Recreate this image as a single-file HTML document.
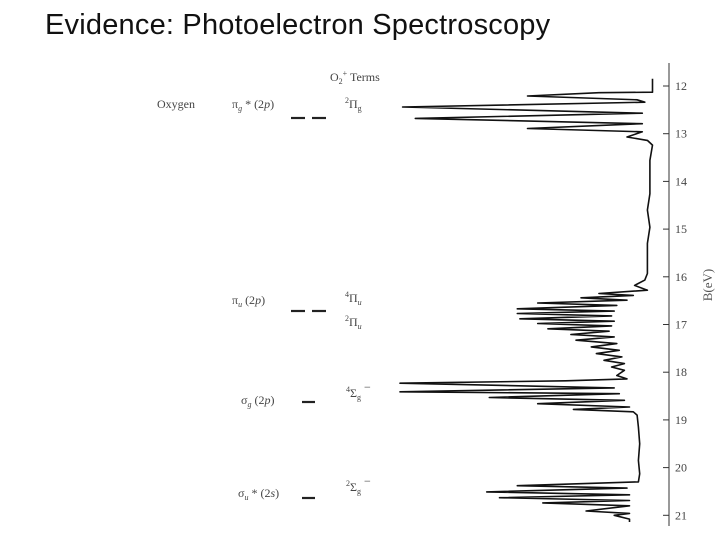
<!DOCTYPE html>
<html><head><meta charset="utf-8"><style>
body{margin:0;background:#fff;width:720px;height:540px;overflow:hidden;font-family:"Liberation Serif",serif}
#title{position:absolute;left:45px;top:9px;font-family:"Liberation Sans",sans-serif;font-size:29px;color:#111;white-space:nowrap;letter-spacing:0.2px}
</style></head><body>
<div id="title">Evidence: Photoelectron Spectroscopy</div>
<svg id="chart" width="720" height="540" style="position:absolute;left:0;top:0">
<g font-family="Liberation Serif, serif" font-size="12" fill="#444">
<text x="330" y="81">O<tspan font-size="8" dy="3">2</tspan><tspan font-size="8" dy="-8">+</tspan><tspan dy="5"> Terms</tspan></text>
<text x="157" y="108">Oxygen</text>
<text x="232" y="108">π<tspan font-size="8" dy="3" font-style="italic">g</tspan><tspan dy="-3"> * (2</tspan><tspan font-style="italic">p</tspan>)</text>
<text x="345" y="108"><tspan font-size="8" dy="-5">2</tspan><tspan dy="5">Π</tspan><tspan font-size="8" dy="3">g</tspan></text>
<text x="232" y="304">π<tspan font-size="8" dy="3" font-style="italic">u</tspan><tspan dy="-3"> (2</tspan><tspan font-style="italic">p</tspan>)</text>
<text x="345" y="302"><tspan font-size="8" dy="-5">4</tspan><tspan dy="5">Π</tspan><tspan font-size="8" dy="3" font-style="italic">u</tspan></text>
<text x="345" y="326"><tspan font-size="8" dy="-5">2</tspan><tspan dy="5">Π</tspan><tspan font-size="8" dy="3" font-style="italic">u</tspan></text>
<text x="241" y="404">σ<tspan font-size="8" dy="3" font-style="italic">g</tspan><tspan dy="-3"> (2</tspan><tspan font-style="italic">p</tspan>)</text>
<text x="346" y="397"><tspan font-size="8" dy="-5">4</tspan><tspan dy="5">Σ</tspan><tspan font-size="8" dy="3">g</tspan><tspan dy="-9"> −</tspan></text>
<text x="238" y="497">σ<tspan font-size="8" dy="3" font-style="italic">u</tspan><tspan dy="-3"> * (2</tspan><tspan font-style="italic">s</tspan>)</text>
<text x="346" y="491"><tspan font-size="8" dy="-5">2</tspan><tspan dy="5">Σ</tspan><tspan font-size="8" dy="3">g</tspan><tspan dy="-9"> −</tspan></text>
</g>
<g stroke="#222" stroke-width="2.2">
<line x1="291" y1="118" x2="305" y2="118"/>
<line x1="312" y1="118" x2="326" y2="118"/>
<line x1="291" y1="311" x2="305" y2="311"/>
<line x1="312" y1="311" x2="326" y2="311"/>
<line x1="302" y1="402" x2="315" y2="402"/>
<line x1="302" y1="498" x2="315" y2="498"/>
</g>
<g id="axis"></g>
<path id="spec" fill="none" stroke="#111" stroke-width="1.6" stroke-linejoin="round"/>
<text x="712" y="285" transform="rotate(-90 712 285)" text-anchor="middle" font-size="13" fill="#555">B(eV)</text>
</svg>
<script>
const tickValues=[12,13,14,15,16,17,18,19,20,21];
const energies=[11.85,12.13,12.14,12.21,12.29,12.34,12.44,12.57,12.68,12.79,12.89,12.96,13.07,13.14,13.24,13.56,14.26,14.6,14.96,15.3,15.65,15.93,16.07,16.18,16.28,16.35,16.39,16.44,16.49,16.55,16.6,16.67,16.72,16.77,16.82,16.88,16.93,16.98,17.03,17.09,17.14,17.21,17.26,17.33,17.4,17.47,17.54,17.61,17.68,17.75,17.82,17.89,17.96,18.07,18.14,18.18,18.23,18.33,18.41,18.45,18.53,18.59,18.66,18.73,18.78,18.83,18.9,19.15,19.5,19.85,20.13,20.3,20.38,20.43,20.51,20.57,20.63,20.69,20.74,20.8,20.91,20.96,21.0,21.08,21.14];
const intensities=[0.01,0.01,0.22,0.5,0.07,0.04,0.99,0.05,0.94,0.05,0.5,0.05,0.11,0.03,0.01,0.02,0.02,0.03,0.02,0.03,0.03,0.03,0.04,0.08,0.03,0.22,0.085,0.29,0.11,0.46,0.15,0.54,0.16,0.54,0.17,0.53,0.16,0.46,0.17,0.42,0.18,0.33,0.16,0.31,0.15,0.25,0.14,0.23,0.13,0.2,0.12,0.17,0.12,0.15,0.11,0.35,1.0,0.16,1.0,0.14,0.65,0.12,0.46,0.1,0.32,0.085,0.07,0.065,0.06,0.065,0.06,0.065,0.54,0.11,0.66,0.1,0.61,0.1,0.44,0.1,0.27,0.1,0.16,0.1,0.1];
const yS=e=>86+(e-12)*47.7;
const xS=i=>655-i*255;
const NS='http://www.w3.org/2000/svg';
const ax=document.getElementById('axis');
const al=document.createElementNS(NS,'line');


al.setAttribute('x1',669);al.setAttribute('x2',669);al.setAttribute('y1',63);al.setAttribute('y2',526);al.setAttribute('stroke','#333');al.setAttribute('stroke-width','1');
ax.appendChild(al);
tickValues.forEach(v=>{
 const t=document.createElementNS(NS,'line');
 
 
 t.setAttribute('x1',663);t.setAttribute('x2',669);t.setAttribute('y1',yS(v));t.setAttribute('y2',yS(v));t.setAttribute('stroke','#333');
 ax.appendChild(t);
 const l=document.createElementNS(NS,'text');
 
 
 l.setAttribute('x',675);l.setAttribute('y',yS(v)+4);l.setAttribute('font-size','12');l.setAttribute('fill','#444');
 l.textContent=v;ax.appendChild(l);
});
document.getElementById('spec').setAttribute('d',energies.map((e,k)=>(k?'L':'M')+xS(intensities[k]).toFixed(1)+' '+yS(e).toFixed(1)).join(' '));
</script>
</body></html>
